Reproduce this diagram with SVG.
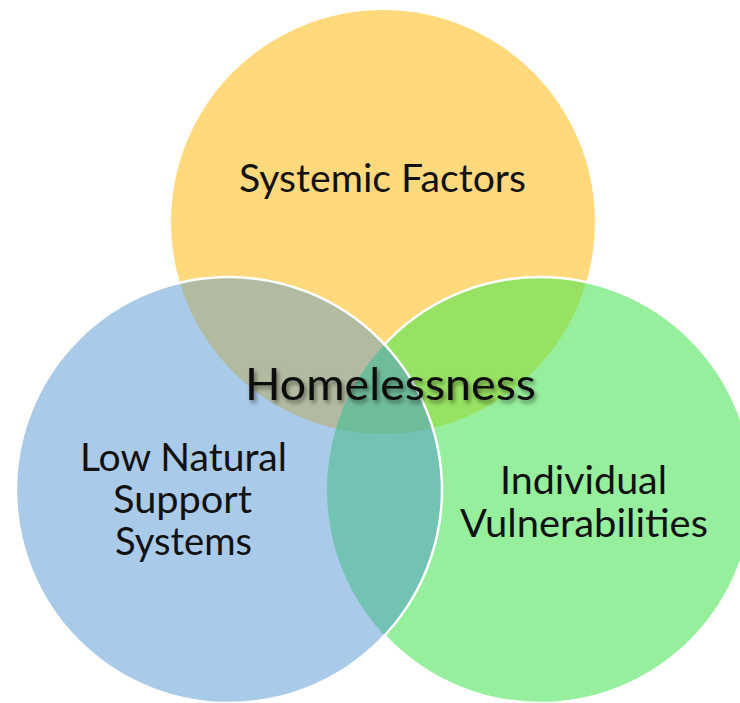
<svg xmlns="http://www.w3.org/2000/svg" width="740" height="703" viewBox="0 0 740 703">
  <style>
    .lbl { font-family: Lato, "Open Sans", "Liberation Sans", sans-serif; font-size: 38px; fill: #111111; text-anchor: middle; }
    .center { font-size: 44px; fill: #0a0a0a; }
    .edge { fill: none; stroke: #ffffff; stroke-width: 2.5; }
  </style>
  <defs>
    <clipPath id="cY"><circle cx="383" cy="222" r="212"/></clipPath>
    <clipPath id="cG"><circle cx="540" cy="490" r="213"/></clipPath>
    <mask id="outB">
      <rect x="0" y="0" width="740" height="703" fill="#fff"/>
      <circle cx="229" cy="490" r="212" fill="#000"/>
    </mask>
    <filter id="shadow" x="-10%" y="-30%" width="120%" height="160%">
      <feDropShadow dx="2" dy="3" stdDeviation="2.2" flood-color="#000" flood-opacity="0.45"/>
    </filter>
  </defs>
  <rect x="0" y="0" width="740" height="703" fill="#ffffff"/>

  <g id="regions">
    <circle cx="383" cy="222" r="212" fill="#FFD97C"/>
    <circle cx="540" cy="490" r="213" fill="#96EF9C"/>
    <circle cx="229" cy="490" r="213" fill="#AACAE9"/>
    <circle cx="540" cy="490" r="213" fill="#97E262" clip-path="url(#cY)"/>
    <circle cx="229" cy="490" r="213" fill="#B2BBA1" clip-path="url(#cY)"/>
    <circle cx="229" cy="490" r="213" fill="#72C3B4" clip-path="url(#cG)"/>
    <g clip-path="url(#cY)">
      <circle cx="229" cy="490" r="213" fill="#6FBC9A" clip-path="url(#cG)"/>
    </g>
    <circle class="edge" cx="540" cy="490" r="213" mask="url(#outB)"/>
    <circle class="edge" cx="229" cy="490" r="213"/>
  </g>

  <g id="systemic-factors">
    <text class="lbl" x="382.5" y="192" textLength="287" lengthAdjust="spacingAndGlyphs">Systemic Factors</text>
  </g>
  <g id="low-natural-support-systems">
    <text class="lbl" x="183.5" y="471" textLength="207" lengthAdjust="spacingAndGlyphs">Low Natural</text>
    <text class="lbl" x="182.5" y="513" textLength="139" lengthAdjust="spacingAndGlyphs">Support</text>
    <text class="lbl" x="183.5" y="555" textLength="137" lengthAdjust="spacingAndGlyphs">Systems</text>
  </g>
  <g id="individual-vulnerabilities">
    <text class="lbl" x="583.5" y="494" textLength="167" lengthAdjust="spacingAndGlyphs">Individual</text>
    <text class="lbl" x="584" y="537" textLength="248" lengthAdjust="spacingAndGlyphs">Vulnerabilities</text>
  </g>
  <g id="homelessness">
    <text class="lbl center" x="390.5" y="400" textLength="291" lengthAdjust="spacingAndGlyphs" filter="url(#shadow)">Homelessness</text>
  </g>
</svg>
